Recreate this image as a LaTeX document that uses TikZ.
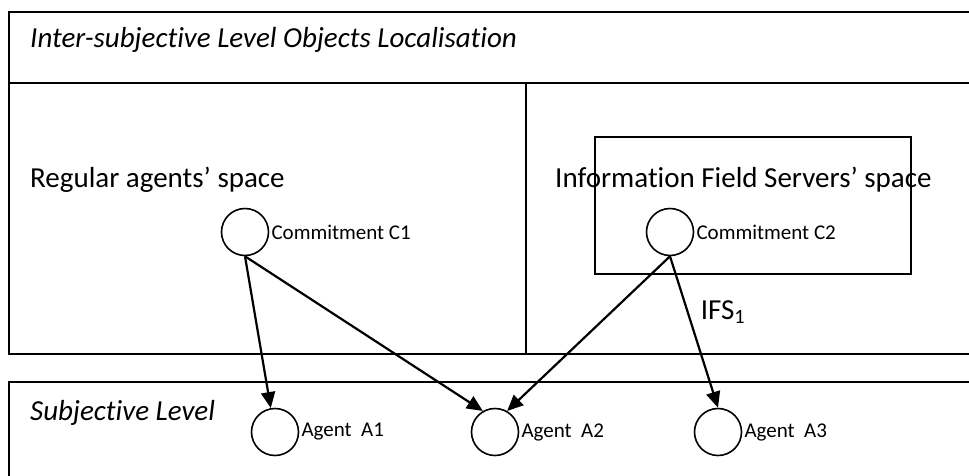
\documentclass[tikz,border=0pt]{standalone}
\usepackage{fontspec}
\setmainfont[Ligatures={TeX,NoCommon}]{Carlito}
\usetikzlibrary{arrows.meta}

\begin{document}
\begin{tikzpicture}[x=1pt,y=-1pt,
		every node/.style={font=\fontsize{21}{25}\selectfont},
		obj/.style={circle,draw,line width=1.6pt,minimum size=47pt,inner sep=0pt},
		objlabel/.style={anchor=west,inner sep=2pt},
		big/.style={font=\fontsize{29}{34}\selectfont,inner sep=0pt},
		bigit/.style={font=\fontsize{29}{34}\selectfont\itshape,inner sep=0pt},
		link/.style={line width=2.2pt,-{Triangle[length=16pt,width=14pt]}},
		frame/.style={line width=2pt}]
		\useasboundingbox ( 0, 0 ) rectangle ( 969, 475 );
		\clip ( 0, 0 ) rectangle ( 969, 475 );

		% межсубъектный уровень
		\draw [frame] ( 9, 12 ) rectangle ( 990, 354 );
		\draw [frame] ( 9, 83 ) -- ( 990, 83 );
		\draw [line width=1.6pt] ( 526, 83 ) -- ( 526, 354 );
		\node [bigit, anchor=base west] (inter) at ( 30, 47 ) {Inter-subjective Level Objects Localisation};

		% пространство обычных агентов
		\node [big, anchor=base west] (regular) at ( 30, 187 ) {Regular agents' space};
		\node [obj] (C1) at ( 245, 232 ) {};
		\node [objlabel] (C1text) at (C1.east) {Commitment C1};

		% пространство серверов информационного поля
		\draw [line width=1.6pt] ( 595, 137 ) rectangle ( 911, 274 );
		\node [big, anchor=base west] (servers) at ( 555, 187 ) {Information Field Servers' space};
		\node [obj] (C2) at ( 670, 232 ) {};
		\node [objlabel] (C2text) at (C2.east) {Commitment C2};

		% субъективный уровень
		\draw [frame] ( 990, 382 ) -- ( 9, 382 ) -- ( 9, 490 );
		\node [bigit, anchor=base west] (subj) at ( 30, 420 ) {Subjective Level};
		\node [obj] (A1) at ( 275, 432 ) {};
		\node [objlabel] (A1text) at (A1.east) {Agent~~A1};
		\node [obj] (A2) at ( 495, 432 ) {};
		\node [objlabel] (A2text) at (A2.east) {Agent~~A2};
		\node [obj] (A3) at ( 718, 432 ) {};
		\node [objlabel] (A3text) at (A3.east) {Agent~~A3};

		% обязательства -> агенты
		\draw [link] (C1.south) -- (A1.100);
		\draw [link] (C1.south) -- (A2.120);
		\draw [link] (C2.south) -- (A2.60);
		\draw [link] (C2.south) -- (A3.north) node [big, pos=0.37, anchor=west, xshift=12pt] (ifs) {IFS\textsubscript{1}};
	\end{tikzpicture}
\end{document}
